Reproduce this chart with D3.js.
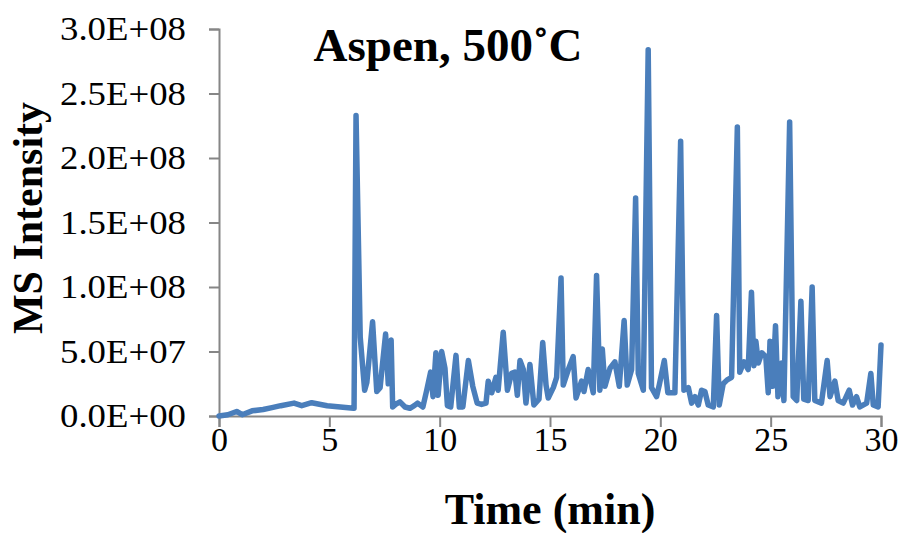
<!DOCTYPE html>
<html>
<head>
<meta charset="utf-8">
<script src="https://cdn.jsdelivr.net/npm/d3@7"></script>
<style>
  html, body { margin: 0; padding: 0; background: #fff; }
  svg { display: block; }
  text { font-family: "Liberation Serif", "Times New Roman", serif; fill: #000; }
</style>
</head>
<body>
<svg id="chart" width="905" height="533"></svg>
<script>
// Time (min)
const times = [0.0,0.4,0.8,1.05,1.5,2.0,2.4,2.8,3.4,3.75,4.2,4.9,5.5,6.1,6.12,6.21,6.4,6.6,6.7,6.96,7.15,7.3,7.55,7.67,7.8,7.87,8.0,8.2,8.43,8.65,8.85,9.0,9.24,9.4,9.59,9.7,9.83,9.93,10.09,10.24,10.35,10.5,10.74,10.89,11.05,11.3,11.5,11.7,11.9,12.1,12.2,12.36,12.55,12.65,12.88,13.07,13.26,13.41,13.52,13.64,13.79,13.91,14.09,14.27,14.5,14.67,14.82,14.92,15.15,15.3,15.5,15.6,15.83,16.05,16.18,16.43,16.54,16.73,16.96,17.11,17.26,17.37,17.49,17.72,17.94,18.14,18.36,18.5,18.7,18.88,19.0,19.23,19.45,19.6,19.83,19.95,20.18,20.34,20.66,20.92,21.07,21.27,21.42,21.57,21.72,21.87,22.02,22.17,22.4,22.55,22.67,22.85,23.03,23.23,23.49,23.6,23.79,23.98,24.13,24.24,24.33,24.44,24.6,24.78,24.89,24.97,25.09,25.22,25.33,25.5,25.6,25.86,26.02,26.18,26.37,26.5,26.7,26.88,27.0,27.3,27.56,27.69,27.91,28.06,28.29,28.56,28.71,28.89,29.04,29.35,29.54,29.65,29.87,30.0];
// MS Intensity
const intensity = [0.0e7,0.1e7,0.35e7,0.1e7,0.4e7,0.5e7,0.65e7,0.8e7,1.0e7,0.8e7,1.03e7,0.8e7,0.7e7,0.6e7,0.6e7,23.3e7,6.1e7,2.0e7,2.6e7,7.3e7,1.9e7,2.2e7,6.35e7,2.5e7,5.9e7,0.7e7,0.9e7,1.1e7,0.7e7,0.6e7,0.8e7,1.0e7,0.7e7,1.9e7,3.4e7,1.5e7,4.9e7,1.6e7,5.0e7,3.7e7,0.8e7,0.7e7,4.7e7,0.7e7,0.7e7,4.3e7,2.3e7,1.0e7,0.9e7,1.0e7,2.7e7,1.8e7,3.0e7,2.0e7,6.5e7,2.0e7,3.3e7,3.4e7,1.6e7,4.3e7,3.6e7,1.0e7,4.0e7,0.85e7,1.3e7,5.7e7,2.4e7,1.4e7,2.2e7,3.0e7,10.7e7,2.4e7,3.6e7,4.6e7,1.4e7,2.7e7,1.9e7,3.6e7,1.8e7,10.9e7,2.0e7,5.2e7,2.3e7,3.7e7,4.2e7,2.3e7,7.4e7,2.4e7,3.6e7,16.9e7,3.3e7,2.0e7,28.4e7,2.2e7,1.5e7,2.4e7,4.3e7,1.8e7,1.8e7,21.3e7,2.0e7,2.2e7,1.0e7,1.5e7,0.85e7,2.0e7,1.9e7,0.85e7,0.7e7,7.8e7,0.85e7,2.5e7,2.8e7,3.0e7,22.4e7,3.4e7,4.2e7,3.6e7,9.6e7,3.9e7,5.8e7,4.1e7,4.9e7,4.6e7,1.8e7,5.8e7,2.3e7,7.0e7,1.5e7,4.1e7,1.2e7,22.8e7,1.5e7,1.2e7,8.9e7,1.3e7,1.2e7,10.0e7,1.2e7,1.0e7,4.3e7,1.5e7,2.7e7,1.2e7,1.0e7,2.0e7,0.85e7,1.5e7,0.7e7,1.0e7,3.3e7,0.85e7,0.7e7,5.5e7];

const xTicks = [0, 5, 10, 15, 20, 25, 30];
const yTicks = [0, 5e7, 1e8, 1.5e8, 2e8, 2.5e8, 3e8];
const yTickLabels = ["0.0E+00","5.0E+07","1.0E+08","1.5E+08","2.0E+08","2.5E+08","3.0E+08"];
const titleText = "Aspen, 500\u02DAC";
const xTitle = "Time (min)";
const yTitle = "MS Intensity";

const svg = d3.select("#chart");
const plotLeft = 219, plotRight = 881, plotTop = 29, plotBottom = 416;

const x = d3.scaleLinear().domain([0, 30]).range([plotLeft, plotRight]);
const y = d3.scaleLinear().domain([0, 3e8]).range([plotBottom, plotTop]);

const axisColor = "#868686";

// Y axis
const yAxis = svg.append("g").attr("transform", `translate(${plotLeft},0)`)
  .call(d3.axisLeft(y).tickValues(yTicks).tickSize(10).tickPadding(23)
    .tickFormat((d, i) => yTickLabels[i]));
yAxis.select(".domain").attr("stroke", axisColor).attr("stroke-width", 2);
yAxis.selectAll(".tick line").attr("stroke", axisColor).attr("stroke-width", 2);
yAxis.selectAll(".tick text").attr("font-size", 33)
  .style("font-family", "'Liberation Serif', serif").attr("fill", "#000")
  .attr("textLength", 126).attr("lengthAdjust", "spacingAndGlyphs");

// X axis
const xAxis = svg.append("g").attr("transform", `translate(0,${plotBottom})`)
  .call(d3.axisBottom(x).tickValues(xTicks).tickSize(11).tickPadding(0)
    .tickFormat(d3.format("d")));
xAxis.select(".domain").attr("stroke", axisColor).attr("stroke-width", 2);
xAxis.selectAll(".tick line").attr("stroke", axisColor).attr("stroke-width", 2);
xAxis.selectAll(".tick text").attr("font-size", 34)
  .style("font-family", "'Liberation Serif', serif").attr("fill", "#000");

// Line
const data = times.map((t, i) => ({ t, v: intensity[i] }));
const line = d3.line().x(d => x(d.t)).y(d => y(d.v));
svg.append("path").datum(data)
  .attr("d", line)
  .attr("fill", "none")
  .attr("stroke", "#4a7ebb")
  .attr("stroke-width", 5.5)
  .attr("stroke-linejoin", "round")
  .attr("stroke-linecap", "round");

// Title
svg.append("text").attr("x", 448).attr("y", 61)
  .attr("text-anchor", "middle").attr("font-size", 47).attr("font-weight", "bold")
  .text(titleText);

// Axis titles
svg.append("text").attr("x", 550).attr("y", 524)
  .attr("text-anchor", "middle").attr("font-size", 44).attr("font-weight", "bold")
  .text(xTitle);

svg.append("text")
  .attr("transform", "translate(42,218) rotate(-90)")
  .attr("text-anchor", "middle").attr("font-size", 42).attr("font-weight", "bold")
  .text(yTitle);
</script>
</body>
</html>
